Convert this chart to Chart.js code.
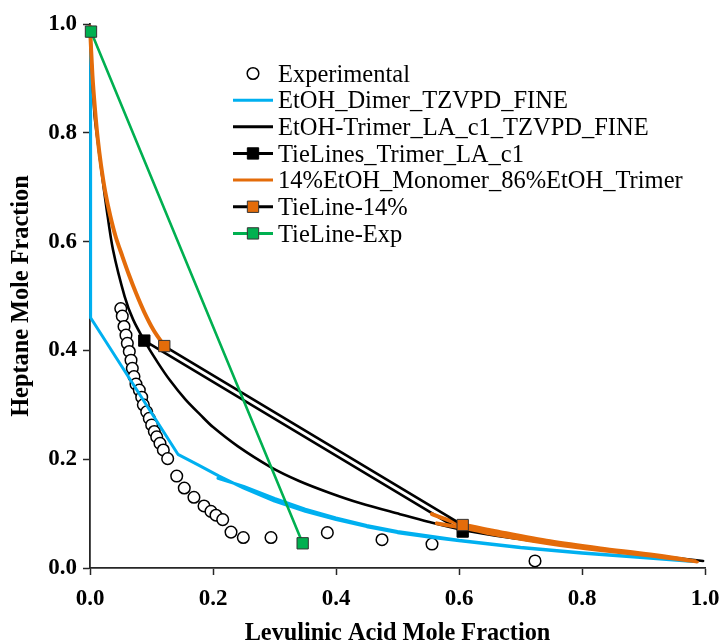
<!DOCTYPE html>
<html>
<head>
<meta charset="utf-8">
<script src="https://cdn.jsdelivr.net/npm/chart.js@4.4.1/dist/chart.umd.min.js"></script>
<style>
html,body{margin:0;padding:0;background:#fff;}
#wrap{width:724px;height:643px;position:relative;}
</style>
</head>
<body>
<div id="wrap"><canvas id="c"></canvas></div>
<script>
// ---------- DATA ----------
const seriesNames = [
  'Experimental',
  'EtOH_Dimer_TZVPD_FINE',
  'EtOH-Trimer_LA_c1_TZVPD_FINE',
  'TieLines_Trimer_LA_c1',
  '14%EtOH_Monomer_86%EtOH_Trimer',
  'TieLine-14%',
  'TieLine-Exp'
];

const xTickValues = [0, 0.2, 0.4, 0.6, 0.8, 1.0];
const xTickLabels = ['0.0', '0.2', '0.4', '0.6', '0.8', '1.0'];
const yTickValues = [0, 0.2, 0.4, 0.6, 0.8, 1.0];
const yTickLabels = ['0.0', '0.2', '0.4', '0.6', '0.8', '1.0'];

const xTitle = 'Levulinic Acid Mole Fraction';
const yTitle = 'Heptane Mole Fraction';

// Experimental points
const expX = [0.050, 0.0525, 0.0553, 0.0585, 0.0607, 0.0639, 0.0667, 0.0688, 0.0715, 0.0748,
              0.0802, 0.0841, 0.0867, 0.0922, 0.0964, 0.1003, 0.1046, 0.1085, 0.1138, 0.1192,
              0.1263, 0.141, 0.1533, 0.169, 0.1854, 0.1967, 0.2049, 0.2158, 0.2293, 0.2493,
              0.2943, 0.3859, 0.4748, 0.5561, 0.7236];
const expY = [0.477, 0.463, 0.444, 0.428, 0.413, 0.398, 0.382, 0.367, 0.352, 0.338,
              0.327, 0.314, 0.300, 0.287, 0.275, 0.263, 0.251, 0.241, 0.229, 0.217,
              0.201, 0.169, 0.147, 0.130, 0.114, 0.104, 0.097, 0.089, 0.066, 0.056,
              0.056, 0.065, 0.052, 0.044, 0.013];

// EtOH dimer model curve (loops back on itself, as in the source)
const dimerX = [0.001, 0.001, 0.143, 0.175, 0.21, 0.25, 0.30, 0.35, 0.40, 0.45, 0.50, 0.55, 0.60, 0.70, 0.80, 0.90, 0.98,
                0.90, 0.80, 0.70, 0.60, 0.50, 0.45, 0.40, 0.35, 0.30, 0.25, 0.208];
const dimerY = [0.99, 0.46, 0.209, 0.190, 0.169, 0.147, 0.123, 0.104, 0.089, 0.076, 0.065, 0.057, 0.050, 0.037, 0.027, 0.019, 0.012,
                0.020, 0.028, 0.038, 0.051, 0.067, 0.078, 0.092, 0.108, 0.128, 0.150, 0.165];

// EtOH trimer model curve
const trimerX = [0.0, 0.004, 0.0076, 0.013, 0.0184, 0.027, 0.0374, 0.0564, 0.070, 0.0883, 0.11, 0.13,
                 0.155, 0.18, 0.20, 0.24, 0.293, 0.34, 0.39, 0.44, 0.504, 0.55, 0.602, 0.68, 0.748, 0.83, 0.911, 0.997];
const trimerY = [0.995, 0.90, 0.83, 0.78, 0.732, 0.66, 0.585, 0.499, 0.457, 0.418, 0.378, 0.345,
                 0.310, 0.281, 0.259, 0.224, 0.186, 0.160, 0.138, 0.119, 0.099, 0.085, 0.071, 0.056, 0.046, 0.034, 0.024, 0.013];

// Tie lines, trimer model
const tieTrimerX = [0.0883, 0.606];
const tieTrimerY = [0.418, 0.067];

// 14% EtOH monomer / 86% EtOH trimer curve (two branches, right one loops back)
const mixX = [0.0, 0.004, 0.008, 0.0125, 0.018, 0.025, 0.033, 0.042, 0.052, 0.063, 0.075, 0.088, 0.103, 0.1208, null,
              0.556, 0.580, 0.606, 0.667, 0.748, 0.830, 0.911, 0.987,
              0.911, 0.830, 0.748, 0.667, 0.620, 0.590, 0.564];
const mixY = [0.995, 0.905, 0.845, 0.79, 0.74, 0.69, 0.647, 0.608, 0.575, 0.54, 0.505, 0.471, 0.438, 0.408, null,
              0.099, 0.089, 0.080, 0.066, 0.049, 0.036, 0.025, 0.012,
              0.023, 0.033, 0.045, 0.060, 0.071, 0.077, 0.082];

// Tie line, 14% model
const tie14X = [0.1208, 0.606];
const tie14Y = [0.408, 0.079];

// Experimental tie line
const tieExpX = [0.0016, 0.3458];
const tieExpY = [0.986, 0.0454];

// ---------- BUILD ----------
const pts = (xs, ys) => xs.map((x, i) => ({x: x, y: ys[i]}));

const BLUE = '#00B0F0', ORANGE = '#E46C0A', GREEN = '#00B050', BLACK = '#000000';

const datasets = [
  {label: seriesNames[0], data: pts(expX, expY), showLine: false,
   pointStyle: 'circle', pointRadius: 5.8, pointBorderWidth: 1.5,
   pointBorderColor: BLACK, pointBackgroundColor: '#ffffff', borderColor: BLACK, backgroundColor: '#fff'},
  {label: seriesNames[1], data: pts(dimerX, dimerY), showLine: true, borderColor: BLUE, borderWidth: 3,
   pointRadius: 0, tension: 0},
  {label: seriesNames[2], data: pts(trimerX, trimerY), showLine: true, borderColor: BLACK, borderWidth: 2.6,
   pointRadius: 0, tension: 0.3},
  {label: seriesNames[3], data: pts(tieTrimerX, tieTrimerY), showLine: true, borderColor: BLACK, borderWidth: 2.6,
   pointStyle: 'rect', pointRadius: 8, pointBorderWidth: 1, pointBorderColor: BLACK, pointBackgroundColor: BLACK},
  {label: seriesNames[4], data: pts(mixX, mixY), showLine: true, borderColor: ORANGE, borderWidth: 4,
   pointRadius: 0, tension: 0.3},
  {label: seriesNames[5], data: pts(tie14X, tie14Y), showLine: true, borderColor: BLACK, borderWidth: 2.6,
   pointStyle: 'rect', pointRadius: 8, pointBorderWidth: 1, pointBorderColor: '#333', pointBackgroundColor: ORANGE},
  {label: seriesNames[6], data: pts(tieExpX, tieExpY), showLine: true, borderColor: GREEN, borderWidth: 2.6,
   pointStyle: 'rect', pointRadius: 8, pointBorderWidth: 1, pointBorderColor: '#333', pointBackgroundColor: GREEN}
];
datasets.forEach((d, i) => {
  d.order = datasets.length - i; // later series drawn on top
  d.clip = false;
  d.borderCapStyle = 'round';
  d.borderJoinStyle = 'round';
  d.spanGaps = false;
  d.pointHoverRadius = d.pointRadius;
});

// In-plot legend
const insideLegend = {
  id: 'insideLegend',
  afterDraw(chart) {
    const ctx = chart.ctx;
    const x0 = 233, x1 = 273, cx = 253, tx = 278;
    const y0 = 73.5, dy = 26.65;
    chart.data.datasets.forEach((ds, i) => {
      const y = y0 + i * dy;
      ctx.save();
      if (ds.showLine) {
        ctx.beginPath();
        ctx.strokeStyle = ds.borderColor;
        ctx.lineWidth = 3;
        ctx.lineCap = 'butt';
        ctx.moveTo(x0, y); ctx.lineTo(x1, y);
        ctx.stroke();
      }
      if (ds.pointRadius > 0) {
        ctx.fillStyle = ds.pointBackgroundColor;
        ctx.strokeStyle = ds.pointBorderColor;
        ctx.lineWidth = ds.pointBorderWidth;
        if (ds.pointStyle === 'circle') {
          ctx.beginPath();
          ctx.arc(cx, y, ds.pointRadius, 0, Math.PI * 2);
          ctx.fill(); ctx.stroke();
        } else {
          const s = ds.pointRadius * Math.SQRT1_2;
          ctx.beginPath();
          ctx.rect(cx - s, y - s, 2 * s, 2 * s);
          ctx.fill(); ctx.stroke();
        }
      }
      ctx.fillStyle = '#000';
      ctx.font = '24.5px "Liberation Serif", "Times New Roman", serif';
      ctx.textBaseline = 'alphabetic';
      ctx.textAlign = 'left';
      ctx.fillText(ds.label, tx, y + 8.2);
      ctx.restore();
    });
  }
};

const FAM = '"Liberation Serif", "Times New Roman", serif';
const xTickFont = {family: FAM, size: 23, weight: 'bold', lineHeight: 1.82};
const yTickFont = {family: FAM, size: 23, weight: 'bold'};
const titleFont = {family: FAM, size: 24.3, weight: 'bold'};
const AXIS = '#262626';

new Chart(document.getElementById('c'), {
  type: 'scatter',
  data: {datasets: datasets},
  options: {
    responsive: true,
    maintainAspectRatio: false,
    animation: false,
    events: [],
    layout: {padding: {top: 24, right: 19, left: 0, bottom: 0}},
    plugins: {legend: {display: false}, tooltip: {enabled: false}},
    scales: {
      x: {
        type: 'linear', min: 0, max: 1,
        afterBuildTicks: s => { s.ticks = xTickValues.map(v => ({value: v})); },
        afterFit: s => { s.height = 75; },
        ticks: {font: xTickFont, color: '#000', padding: 3, maxRotation: 0,
                callback: (v, i) => xTickLabels[i]},
        grid: {display: true, drawOnChartArea: false, drawTicks: true, tickLength: 7, tickWidth: 1.5,
               tickColor: AXIS, color: AXIS},
        border: {display: true, color: AXIS, width: 1.8},
        title: {display: true, text: xTitle, font: titleFont, color: '#000', padding: {top: 0, bottom: -5}}
      },
      y: {
        type: 'linear', min: 0, max: 1,
        afterBuildTicks: s => { s.ticks = yTickValues.map(v => ({value: v})); },
        afterFit: s => { s.width = 90; },
        ticks: {font: yTickFont, color: '#000', padding: 6,
                callback: (v, i) => yTickLabels[i]},
        grid: {display: true, drawOnChartArea: false, drawTicks: true, tickLength: 7, tickWidth: 1.5,
               tickColor: AXIS, color: AXIS},
        border: {display: true, color: AXIS, width: 1.8},
        title: {display: true, text: yTitle, font: titleFont, color: '#000', padding: {top: 7, bottom: 0}}
      }
    }
  },
  plugins: [insideLegend]
});
</script>
</body>
</html>
